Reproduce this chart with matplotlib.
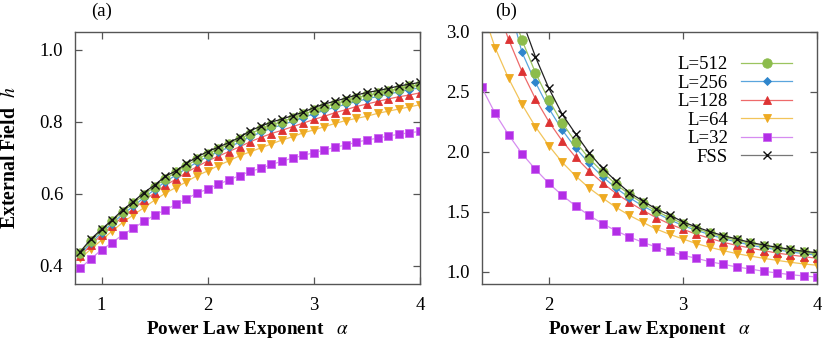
import numpy as np
import matplotlib
matplotlib.use("Agg")
import matplotlib.pyplot as plt

plt.rcParams['font.family'] = ['Liberation Serif', 'DejaVu Serif']
plt.rcParams['mathtext.fontset'] = 'stix'

# ---------------- data ----------------
alpha_a = [0.8, 0.9, 1.0, 1.1, 1.2, 1.3, 1.4, 1.5, 1.6, 1.7, 1.8, 1.9, 2.0,
           2.1, 2.2, 2.3, 2.4, 2.5, 2.6, 2.7, 2.8, 2.9, 3.0, 3.1, 3.2, 3.3,
           3.4, 3.5, 3.6, 3.7, 3.8, 3.9, 4.0]

h_a_L512 = [0.437, 0.470, 0.499, 0.524, 0.551, 0.574, 0.598, 0.620, 0.642, 0.660,
            0.679, 0.696, 0.712, 0.724, 0.738, 0.752, 0.768, 0.780, 0.792, 0.801,
            0.811, 0.821, 0.832, 0.842, 0.851, 0.859, 0.867, 0.874, 0.880, 0.886,
            0.893, 0.899, 0.904]
h_a_L256 = [0.433, 0.464, 0.493, 0.518, 0.544, 0.566, 0.590, 0.612, 0.634, 0.652,
            0.671, 0.688, 0.704, 0.717, 0.730, 0.744, 0.759, 0.771, 0.783, 0.792,
            0.802, 0.812, 0.823, 0.832, 0.841, 0.849, 0.857, 0.864, 0.871, 0.877,
            0.884, 0.890, 0.895]
h_a_L128 = [0.428, 0.458, 0.487, 0.511, 0.537, 0.558, 0.582, 0.603, 0.624, 0.641,
            0.660, 0.676, 0.692, 0.705, 0.718, 0.731, 0.745, 0.757, 0.768, 0.777,
            0.787, 0.797, 0.807, 0.816, 0.826, 0.834, 0.843, 0.850, 0.857, 0.864,
            0.870, 0.875, 0.881]
h_a_L64 = [0.421, 0.447, 0.472, 0.497, 0.521, 0.542, 0.562, 0.583, 0.602, 0.618,
           0.634, 0.651, 0.664, 0.679, 0.692, 0.706, 0.717, 0.728, 0.739, 0.750,
           0.759, 0.770, 0.778, 0.787, 0.796, 0.804, 0.810, 0.816, 0.824, 0.830,
           0.836, 0.842, 0.848]
h_a_L32 = [0.394, 0.420, 0.445, 0.465, 0.487, 0.505, 0.524, 0.541, 0.556, 0.571,
           0.587, 0.602, 0.614, 0.627, 0.639, 0.651, 0.663, 0.671, 0.682, 0.691,
           0.700, 0.707, 0.715, 0.722, 0.730, 0.736, 0.744, 0.750, 0.755, 0.761,
           0.766, 0.770, 0.774]
h_a_FSS = [0.440, 0.475, 0.502, 0.528, 0.556, 0.579, 0.604, 0.625, 0.649, 0.664,
           0.685, 0.703, 0.718, 0.730, 0.743, 0.757, 0.776, 0.788, 0.800, 0.808,
           0.818, 0.827, 0.840, 0.850, 0.858, 0.866, 0.875, 0.882, 0.887, 0.893,
           0.900, 0.905, 0.910]

alpha_b = [1.5, 1.6, 1.7, 1.8, 1.9, 2.0, 2.1, 2.2, 2.3, 2.4, 2.5, 2.6, 2.7,
           2.8, 2.9, 3.0, 3.1, 3.2, 3.3, 3.4, 3.5, 3.6, 3.7, 3.8, 3.9, 4.0]

v_b_L512 = [4.10, 3.65, 3.27, 2.933, 2.661, 2.433, 2.242, 2.083, 1.947, 1.833,
            1.731, 1.647, 1.572, 1.508, 1.453, 1.403, 1.361, 1.325, 1.292, 1.264,
            1.239, 1.217, 1.200, 1.181, 1.164, 1.150]
v_b_L256 = [4.20, 3.70, 3.25, 2.831, 2.581, 2.364, 2.183, 2.033, 1.906, 1.794,
            1.700, 1.619, 1.550, 1.492, 1.436, 1.386, 1.347, 1.311, 1.278, 1.250,
            1.225, 1.203, 1.186, 1.167, 1.153, 1.139]
v_b_L128 = [3.60, 3.25, 2.939, 2.672, 2.444, 2.253, 2.092, 1.956, 1.842, 1.742,
            1.656, 1.581, 1.514, 1.453, 1.400, 1.356, 1.314, 1.281, 1.247, 1.222,
            1.200, 1.178, 1.158, 1.142, 1.128, 1.114]
v_b_L64 = [3.20, 2.869, 2.614, 2.397, 2.211, 2.053, 1.914, 1.800, 1.700, 1.617,
           1.539, 1.472, 1.414, 1.358, 1.314, 1.275, 1.236, 1.206, 1.178, 1.153,
           1.133, 1.114, 1.097, 1.081, 1.067, 1.056]
v_b_L32 = [2.539, 2.322, 2.144, 1.986, 1.856, 1.739, 1.639, 1.550, 1.472, 1.403,
           1.344, 1.292, 1.247, 1.208, 1.175, 1.139, 1.114, 1.086, 1.064, 1.042,
           1.025, 1.006, 0.992, 0.978, 0.967, 0.958]
v_b_FSS = [4.30, 3.85, 3.45, 3.10, 2.794, 2.531, 2.314, 2.150, 1.994, 1.864,
           1.758, 1.661, 1.592, 1.525, 1.475, 1.417, 1.375, 1.336, 1.303, 1.275,
           1.247, 1.225, 1.206, 1.189, 1.172, 1.161]

labels = ['L=512', 'L=256', 'L=128', 'L=64', 'L=32', 'FSS']

# ---------------- style ----------------
styles = [
    dict(color='#9bc45f', mfc='#8cbc4c', mec='#8cbc4c', marker='o', ms=6.8),
    dict(color='#5aa5dd', mfc='#2f86cc', mec='#2f86cc', marker='D', ms=4.3),
    dict(color='#ee6a6a', mfc='#dd3333', mec='#dd3333', marker='^', ms=6.2),
    dict(color='#f2c45a', mfc='#eeaa22', mec='#eeaa22', marker='v', ms=6.2),
    dict(color='#d68cf0', mfc='#b22ee6', mec='#cc66f0', marker='s', ms=6.2),
    dict(color='#222222', mfc='none', mec='#111111', marker='x', ms=6.0),
]

W, H = 822, 342
fig = plt.figure(figsize=(W/100, H/100), dpi=100)
ax1 = fig.add_axes([75/W, 1-284/H, (420-75)/W, (284-32)/H])
ax2 = fig.add_axes([481.7/W, 1-284/H, (817.3-481.7)/W, (284-32)/H])

series_a = [h_a_L512, h_a_L256, h_a_L128, h_a_L64, h_a_L32, h_a_FSS]
series_b = [v_b_L512, v_b_L256, v_b_L128, v_b_L64, v_b_L32, v_b_FSS]

order = [4, 3, 2, 1, 0, 5]
handles = {}
for i in order:
    st = styles[i]
    mew = 1.0 if st['marker'] == 'x' else 0.6
    ax1.plot(alpha_a, series_a[i], lw=0.9, color=st['color'], marker=st['marker'],
             ms=st['ms'], mfc=st['mfc'], mec=st['mec'], mew=mew)
    ln, = ax2.plot(alpha_b, series_b[i], lw=0.9, color=st['color'], marker=st['marker'],
                   ms=st['ms'], mfc=st['mfc'], mec=st['mec'], mew=mew, label=labels[i])
    handles[i] = ln

for ax in (ax1, ax2):
    for sp in ax.spines.values():
        sp.set_color('#555555')
        sp.set_linewidth(1.0)
    ax.tick_params(direction='in', length=5, width=0.9, color='#555555',
                   top=True, right=True, labelsize=13.5)
    ax.tick_params(axis='x', pad=9)
    ax.tick_params(axis='y', pad=8.5)
    ax.set_xlabel('Power Law Exponent   ' + r'$\alpha$', fontsize=13.8,
                  fontweight='bold')
    ax.xaxis.set_label_coords(0.5, (284-319)/252)

ax1.set_xlim(0.75, 4.0)
ax1.set_ylim(0.35, 1.05)
ax1.set_xticks([1, 2, 3, 4])
ax1.set_yticks([0.4, 0.6, 0.8, 1.0])
ax1.set_yticklabels(['0.4', '0.6', '0.8', '1.0'])
ax1.set_ylabel('External Field  ' + r'$h$', fontsize=14.2, fontweight='bold')
ax1.yaxis.set_label_coords((20-75)/345, 0.5)

ax2.set_xlim(1.5, 4.0)
ax2.set_ylim(0.9, 3.0)
ax2.set_xticks([2, 3, 4])
ax2.set_yticks([1.0, 1.5, 2.0, 2.5, 3.0])
ax2.set_yticklabels(['1.0', '1.5', '2.0', '2.5', '3.0'])

fig.text(102/W, 1-11/H, '(a)', fontsize=13.5, ha='center', va='center')
fig.text(506/W, 1-11/H, '(b)', fontsize=13.5, ha='center', va='center')

leg = ax2.legend([handles[i] for i in range(6)], labels, loc='upper right',
                 bbox_to_anchor=(799.5/W, 1-48.7/H), bbox_transform=fig.transFigure,
                 frameon=False, markerfirst=False,
                 fontsize=13.5, handlelength=2.72, handletextpad=0.69,
                 labelspacing=0.07, borderaxespad=0.0, borderpad=0.4)
for t in leg.get_texts():
    t.set_ha('right')
leg.legend_handles[5].set_color('#777777')

fig.savefig('out.png', dpi=100)
